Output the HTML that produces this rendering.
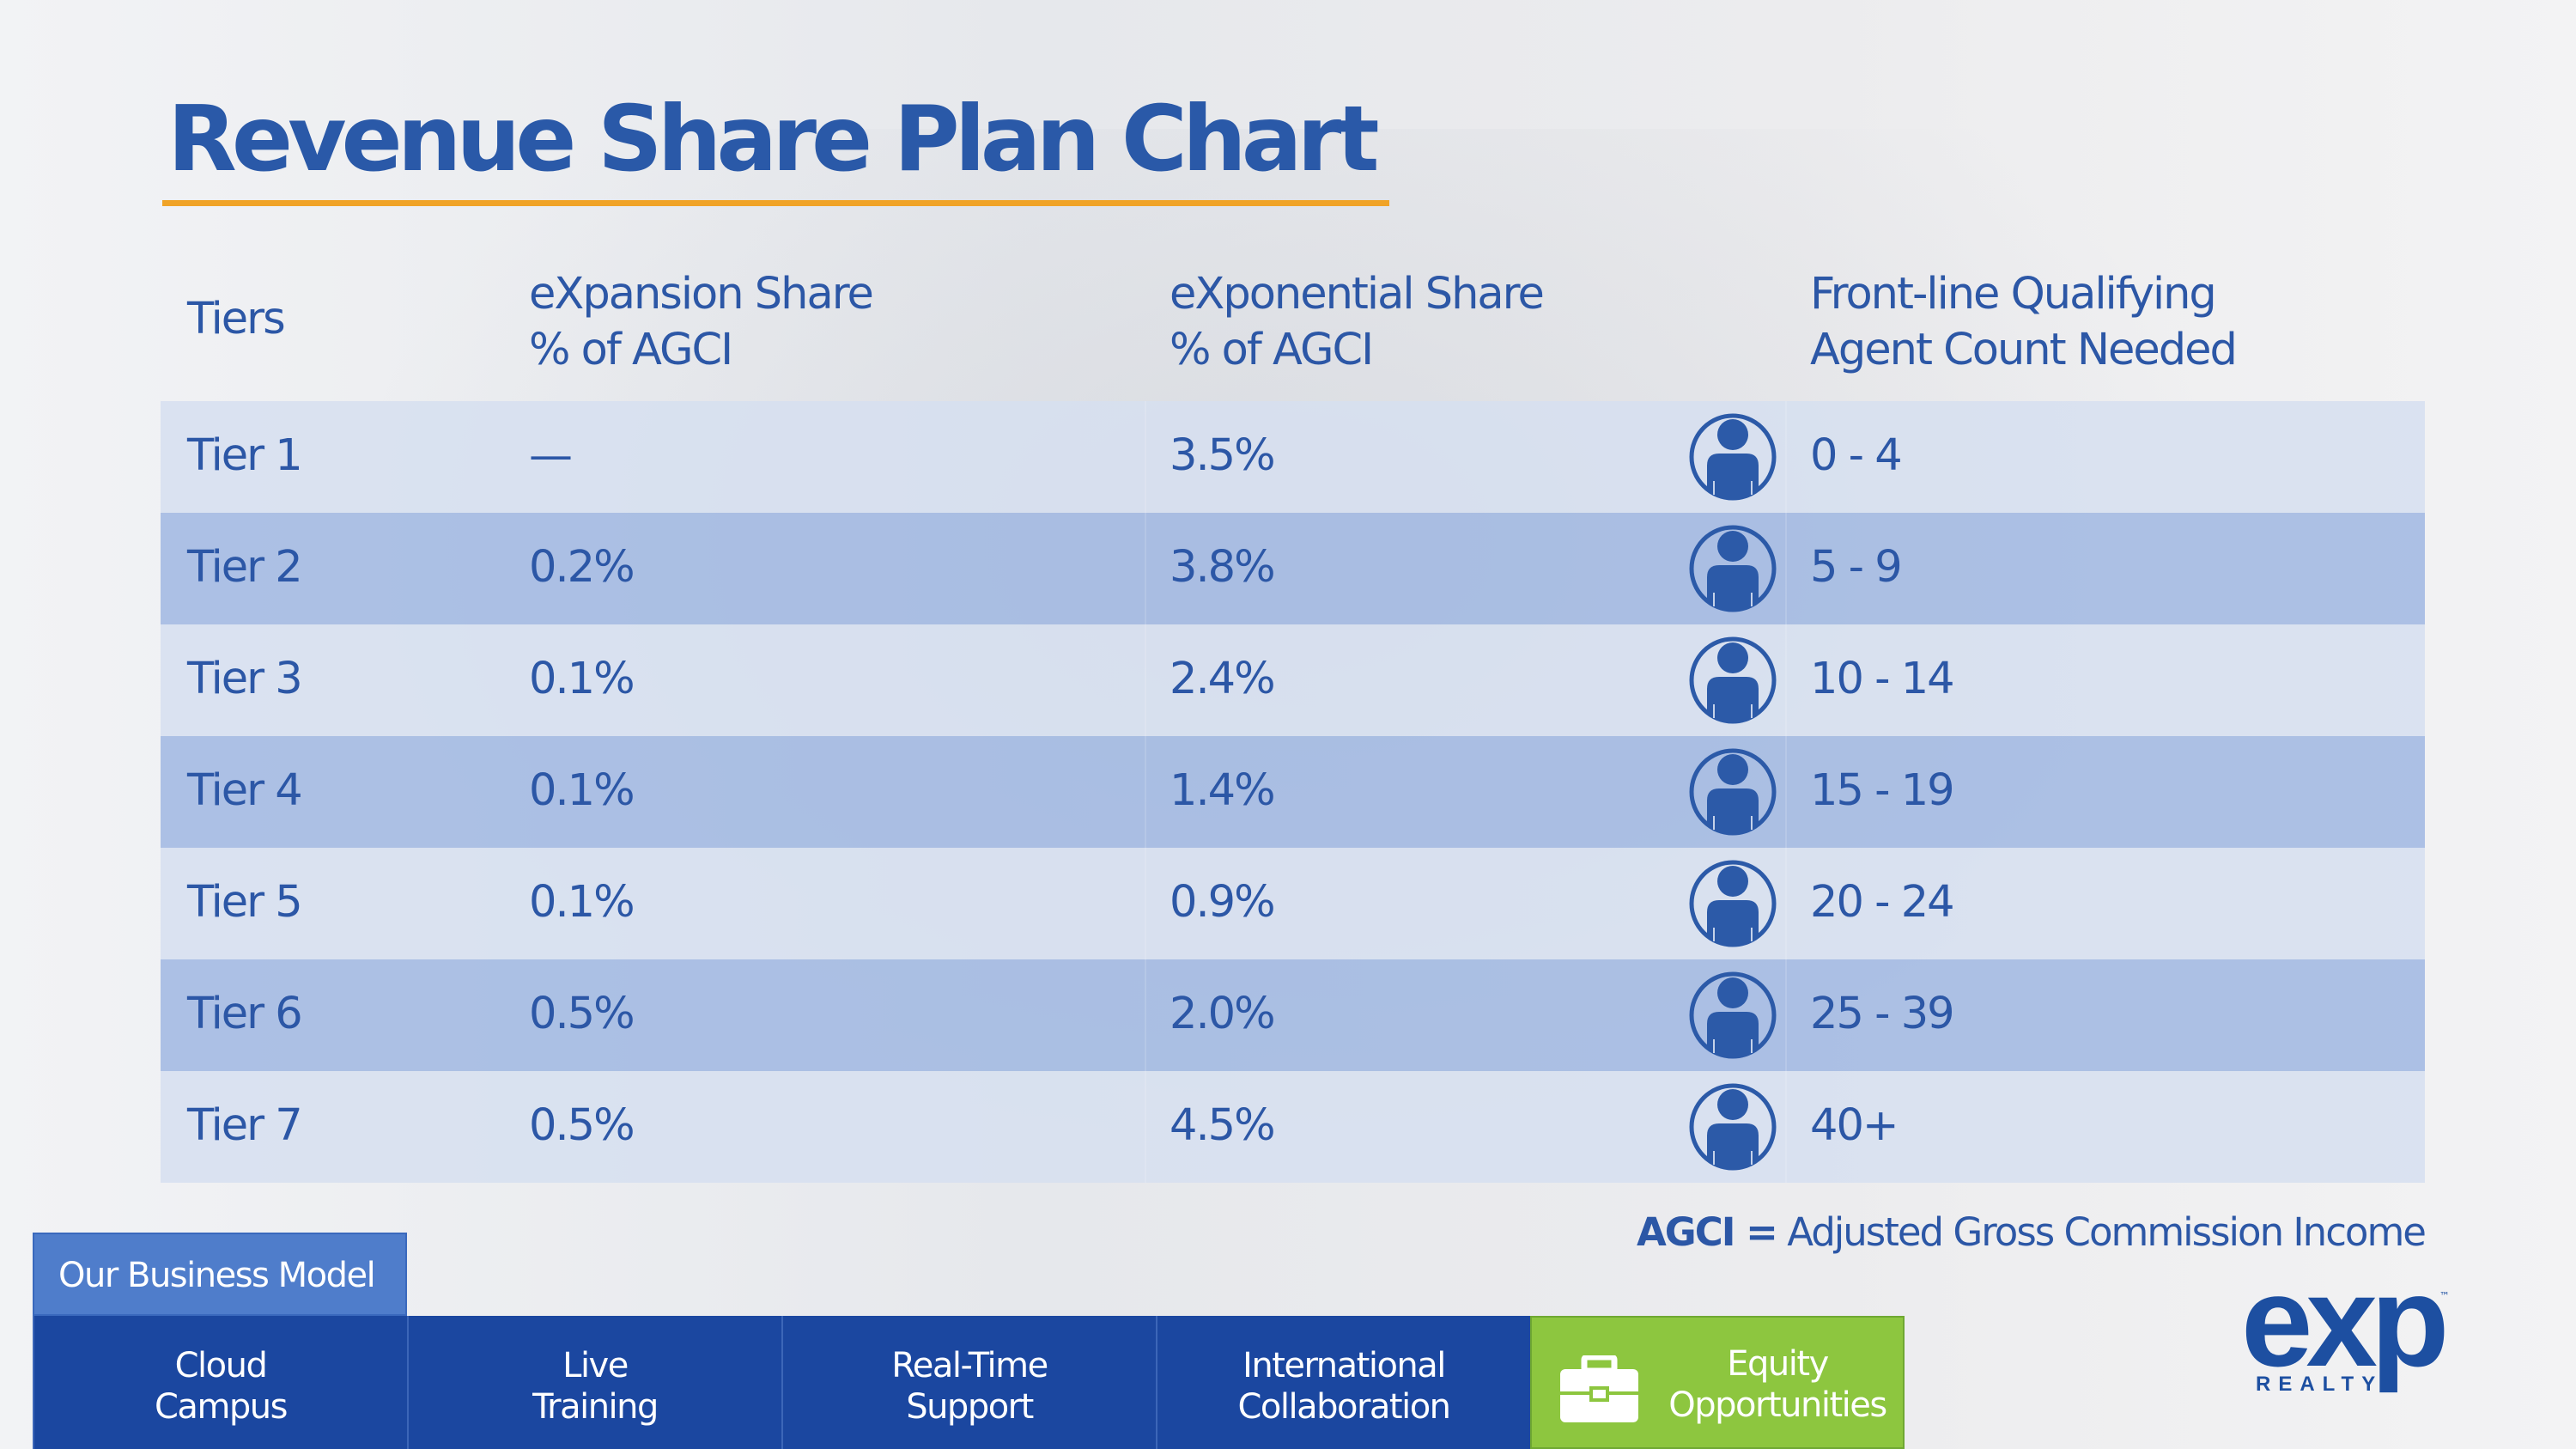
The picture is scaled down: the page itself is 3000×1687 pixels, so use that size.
<!DOCTYPE html>
<html><head><meta charset="utf-8"><style>
*{margin:0;padding:0;box-sizing:border-box}
body{width:3000px;height:1687px;overflow:hidden;position:relative;font-family:"DejaVu Sans","Liberation Sans",sans-serif;background:linear-gradient(90deg,#f2f3f5 0%,#e6e8ec 40%,#ececee 70%,#f3f3f4 100%);color:#2c57a6}
.a{position:absolute}
.t{position:absolute;font-size:51px;white-space:nowrap;letter-spacing:-2px}
.row{position:absolute;left:187px;width:2637px;height:130px}
.nav{position:absolute;top:1532px;height:155px;width:436px;background:#1b47a0;border-left:2px solid #3c66b8;color:#fff;font-size:40px;text-align:center;line-height:48px;padding-top:34px;letter-spacing:-1.5px}
</style></head><body>
<div class="a" style="left:400px;top:150px;width:2200px;height:1200px;background:radial-gradient(ellipse at 50% 40%,rgba(200,204,212,0.45),rgba(255,255,255,0) 70%)"></div>
<div class="a" style="left:195px;top:101px;font-family:'DejaVu Sans',sans-serif;font-weight:bold;font-size:105px;color:#2a59a8;letter-spacing:-6px;white-space:nowrap">Revenue Share Plan Chart</div>
<div class="a" style="left:189px;top:233px;width:1429px;height:7px;background:#f0a327"></div>

<div class="t" style="left:218px;top:342px">Tiers</div>
<div class="t" style="left:616px;top:310px;line-height:65px">eXpansion Share<br>% of AGCI</div>
<div class="t" style="left:1362px;top:310px;line-height:65px">eXponential Share<br>% of AGCI</div>
<div class="t" style="left:2108px;top:310px;line-height:65px">Front-line Qualifying<br>Agent Count Needed</div>

<div id="table"></div>

<div class="a" style="right:176px;top:1408px;font-size:45px;white-space:nowrap;letter-spacing:-2px"><b>AGCI =</b> Adjusted Gross Commission Income</div>

<div class="a" style="left:38px;top:1435px;width:436px;height:97px;background:#4f7dcb;border:2px solid #3a69bd;color:#fff;font-size:40px;line-height:97px;padding-left:28px;letter-spacing:-1.5px">Our Business Model</div>
<div class="nav" style="left:38px">Cloud<br>Campus</div>
<div class="nav" style="left:474px">Live<br>Training</div>
<div class="nav" style="left:910px">Real-Time<br>Support</div>
<div class="nav" style="left:1346px">International<br>Collaboration</div>
<div class="nav" style="left:1782px;background:#8dc63f;border:2px solid #6fa832;padding-left:140px;padding-top:30px">Equity<br>Opportunities</div>
<svg class="a" style="left:1815px;top:1578px" width="95" height="80" viewBox="0 0 95 80"><rect x="30" y="2" width="35" height="16" rx="3" fill="none" stroke="#fff" stroke-width="7"/><rect x="2" y="16" width="91" height="62" rx="6" fill="#fff"/><rect x="2" y="42" width="91" height="4" fill="#8dc63f"/><rect x="38" y="38" width="19" height="14" fill="#fff" stroke="#8dc63f" stroke-width="4"/></svg>

<div class="a" style="left:2605px;top:1470px;width:260px;height:160px">
<div class="a" style="left:5px;top:-18px;font-family:'Liberation Sans',sans-serif;font-weight:bold;font-size:150px;color:#1d4fa1;letter-spacing:-8px">e<span style="color:#1d4fa1">x</span>p</div>
<div class="a" style="left:22px;top:128px;font-family:'Liberation Sans',sans-serif;font-weight:bold;font-size:24px;letter-spacing:9px;color:#1d4fa1">REALTY</div>
<div class="a" style="left:236px;top:32px;font-size:12px;color:#1d4fa1">™</div>
</div>

<script>
const tiers=["Tier 1","Tier 2","Tier 3","Tier 4","Tier 5","Tier 6","Tier 7"];
const expansion=["—","0.2%","0.1%","0.1%","0.1%","0.5%","0.5%"];
const exponential=["3.5%","3.8%","2.4%","1.4%","0.9%","2.0%","4.5%"];
const counts=["0 - 4","5 - 9","10 - 14","15 - 19","20 - 24","25 - 39","40+"];
const tb=document.getElementById('table');
tiers.forEach((t,i)=>{
  const y=467+i*130;
  const r=document.createElement('div');
  r.className='row';
  
  
  r.style.top=y+'px';
  r.style.background=i%2?'rgba(160,183,226,0.85)':'rgba(214,223,240,0.85)';
  r.innerHTML='<div style="position:absolute;left:1146px;top:0;width:2px;height:130px;background:rgba(255,255,255,0.15)"></div><div style="position:absolute;left:1892px;top:0;width:2px;height:130px;background:rgba(255,255,255,0.15)"></div>';
  tb.appendChild(r);
  const cells=[[218,t,'tier-label'],[616,expansion[i],'expansion-value'],[1362,exponential[i],'exponential-value'],[2108,counts[i],'agent-count']];
  cells.forEach(c=>{
    const d=document.createElement('div');
    d.className='t';
    
    
    d.style.left=c[0]+'px';d.style.top=(y+34)+'px';
    d.textContent=c[1];
    tb.appendChild(d);
  });
  const s=document.createElementNS('http://www.w3.org/2000/svg','svg');
  
  
  s.setAttribute('width','104');s.setAttribute('height','104');
  s.setAttribute('viewBox','0 0 104 104');
  s.style.cssText='position:absolute;left:1966px;top:'+(y+13)+'px';
  s.innerHTML='<defs><clipPath id="c'+i+'"><circle cx="52" cy="52" r="46"/></clipPath></defs><circle cx="52" cy="52" r="48" fill="none" stroke="#2c5aa8" stroke-width="5"/><circle cx="52" cy="26" r="18" fill="#2c5aa8"/><g clip-path="url(#c'+i+')"><path d="M22 62 Q22 48 36 48 L68 48 Q82 48 82 62 L82 104 L22 104Z" fill="#2c5aa8"/></g><path d="M30 80 L30 96 M74 80 L74 96" stroke="rgba(214,223,240,0.9)" stroke-width="2"/>';
  tb.appendChild(s);
});
</script>
</body></html>
